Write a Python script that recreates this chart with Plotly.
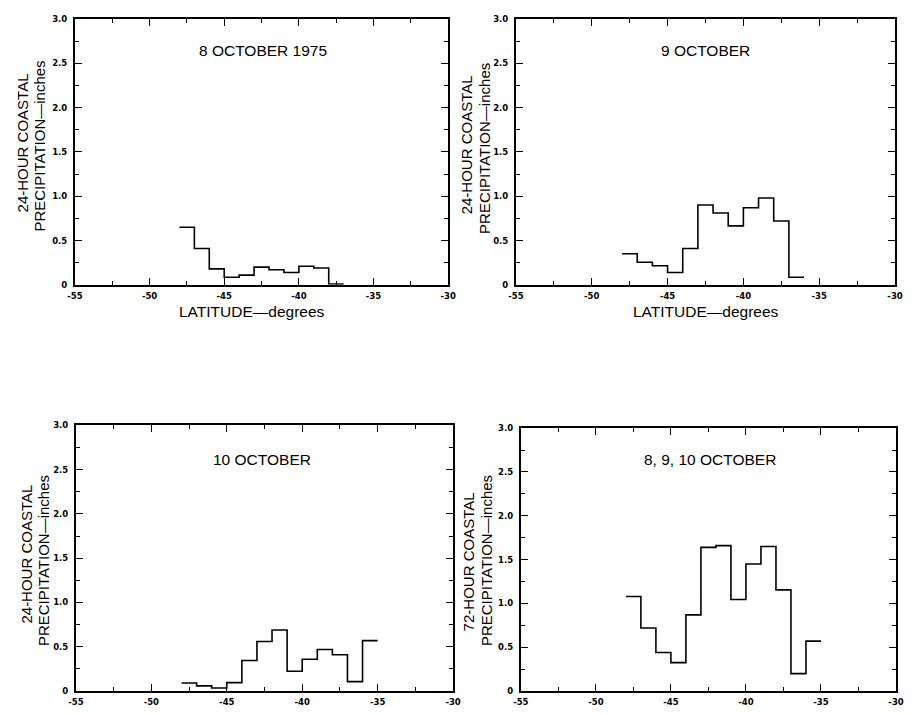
import plotly.graph_objects as go

# ---- data ----
lat_start = -48  # first bin's left edge (degrees); bins are 1 degree wide
oct8 = [0.65, 0.41, 0.18, 0.085, 0.11, 0.20, 0.17, 0.14, 0.21, 0.19, 0.01]
oct9 = [0.35, 0.255, 0.215, 0.14, 0.41, 0.90, 0.81, 0.665, 0.87, 0.98, 0.72, 0.085]
oct10 = [0.092, 0.06, 0.035, 0.096, 0.345, 0.56, 0.69, 0.225, 0.36, 0.47, 0.41, 0.107, 0.57]
oct8_10 = [1.08, 0.72, 0.44, 0.325, 0.87, 1.64, 1.66, 1.045, 1.45, 1.65, 1.155, 0.20, 0.57]

panel_titles = ["8 OCTOBER 1975", "9 OCTOBER", "10 OCTOBER", "8, 9, 10 OCTOBER"]
y_line1 = ["24-HOUR COASTAL", "24-HOUR COASTAL", "24-HOUR COASTAL", "72-HOUR COASTAL"]
y_line2 = "PRECIPITATION\u2014inches"
x_title = "LATITUDE\u2014degrees"
x_tickvals = [-55, -50, -45, -40, -35, -30]
x_ticktext = ["-55", "-50", "-45", "-40", "-35", "-30"]
y_tickvals = [0, 0.5, 1.0, 1.5, 2.0, 2.5, 3.0]
y_ticktext = ["0", "0.5", "1.0", "1.5", "2.0", "2.5", "3.0"]

OFF = 8  # page body margin
W, H = 913 - 2 * OFF, 715 - 2 * OFF
# panel boxes in window pixels: (left, right, top, bottom)
boxes = [(68, 448, 14, 285), (517, 903, 14, 285), (69, 453, 428, 699), (522, 904, 431, 699)]
ytitle1_px = [(15, 140), (467, 142), (19, 559), (469, 567)]
ytitle2_px = [(31.5, 144), (485, 146), (36, 566), (487, 566)]
title_pos = [(-42.4, 2.64), (-42.47, 2.64), (-42.66, 2.61), (-42.38, 2.64)]

series = [oct8, oct9, oct10, oct8_10]
FONT = "Liberation Sans, Arial, sans-serif"


def px2paper(x, y):
    return (x - OFF) / W, 1 - (y - OFF) / H


fig = go.Figure()
layout = dict(width=W, height=H, margin=dict(l=0, r=0, t=0, b=0),
              paper_bgcolor="white", plot_bgcolor="white", showlegend=False,
              font=dict(family=FONT, color="black"))
annotations = []
tickfont = dict(family="DejaVu Sans, sans-serif", size=8.5, color="black", weight="bold")
for i, (vals, box) in enumerate(zip(series, boxes)):
    n = i + 1
    xa = "x" if n == 1 else f"x{n}"
    ya = "y" if n == 1 else f"y{n}"
    edges = [lat_start + k for k in range(len(vals) + 1)]
    yv = vals + [vals[-1]]
    fig.add_trace(go.Scatter(x=edges, y=yv, mode="lines", line_shape="hv",
                             line=dict(color="black", width=1.6),
                             xaxis=xa, yaxis=ya, hoverinfo="skip"))
    l, r, t, b = box
    x0, y1 = px2paper(l, t)
    x1, y0 = px2paper(r, b)
    xkey = "xaxis" if n == 1 else f"xaxis{n}"
    ykey = "yaxis" if n == 1 else f"yaxis{n}"
    layout[xkey] = dict(domain=[x0, x1], range=[-55, -30], anchor=ya,
                        tickvals=x_tickvals, ticktext=x_ticktext,
                        ticks="inside", ticklen=7, tickwidth=1.3, tickcolor="black",
                        minor=dict(ticks="inside", dtick=2.5, tick0=-55, ticklen=4, tickwidth=1.2, tickcolor="black"),
                        showline=True, linecolor="black", linewidth=2, mirror="ticks",
                        showgrid=False, zeroline=False, tickfont=tickfont, ticklabelstandoff=2)
    layout[ykey] = dict(domain=[y0, y1], range=[0, 3.0], anchor=xa,
                        tickvals=y_tickvals, ticktext=y_ticktext,
                        ticks="inside", ticklen=7, tickwidth=1.3, tickcolor="black",
                        minor=dict(ticks="inside", dtick=0.25, tick0=0, ticklen=4, tickwidth=1.2, tickcolor="black"),
                        showline=True, linecolor="black", linewidth=2, mirror="ticks",
                        showgrid=False, zeroline=False, tickfont=tickfont, ticklabelstandoff=4)
    tx, ty = title_pos[i]
    annotations.append(dict(x=tx, y=ty, xref=xa, yref=ya, text=panel_titles[i], showarrow=False,
                            font=dict(family=FONT, size=15.5, color="black")))
    for (px, py), txt in ((ytitle1_px[i], y_line1[i]), (ytitle2_px[i], y_line2)):
        ax, ay = px2paper(px, py)
        annotations.append(dict(x=ax, y=ay, xref="paper", yref="paper", text=txt,
                                textangle=-90, showarrow=False, xanchor="center", yanchor="middle",
                                font=dict(family=FONT, size=15, color="black")))
    if i < 2:
        ax, ay = px2paper((l + r) / 2 - 10 if i == 0 else (l + r) / 2 + 1, 312)
        annotations.append(dict(x=ax, y=ay, xref="paper", yref="paper",
                                text=x_title, showarrow=False, xanchor="center", yanchor="middle",
                                font=dict(family=FONT, size=15.5, color="black")))

layout["annotations"] = annotations
fig.update_layout(**layout)
fig.write_html("out.html")
